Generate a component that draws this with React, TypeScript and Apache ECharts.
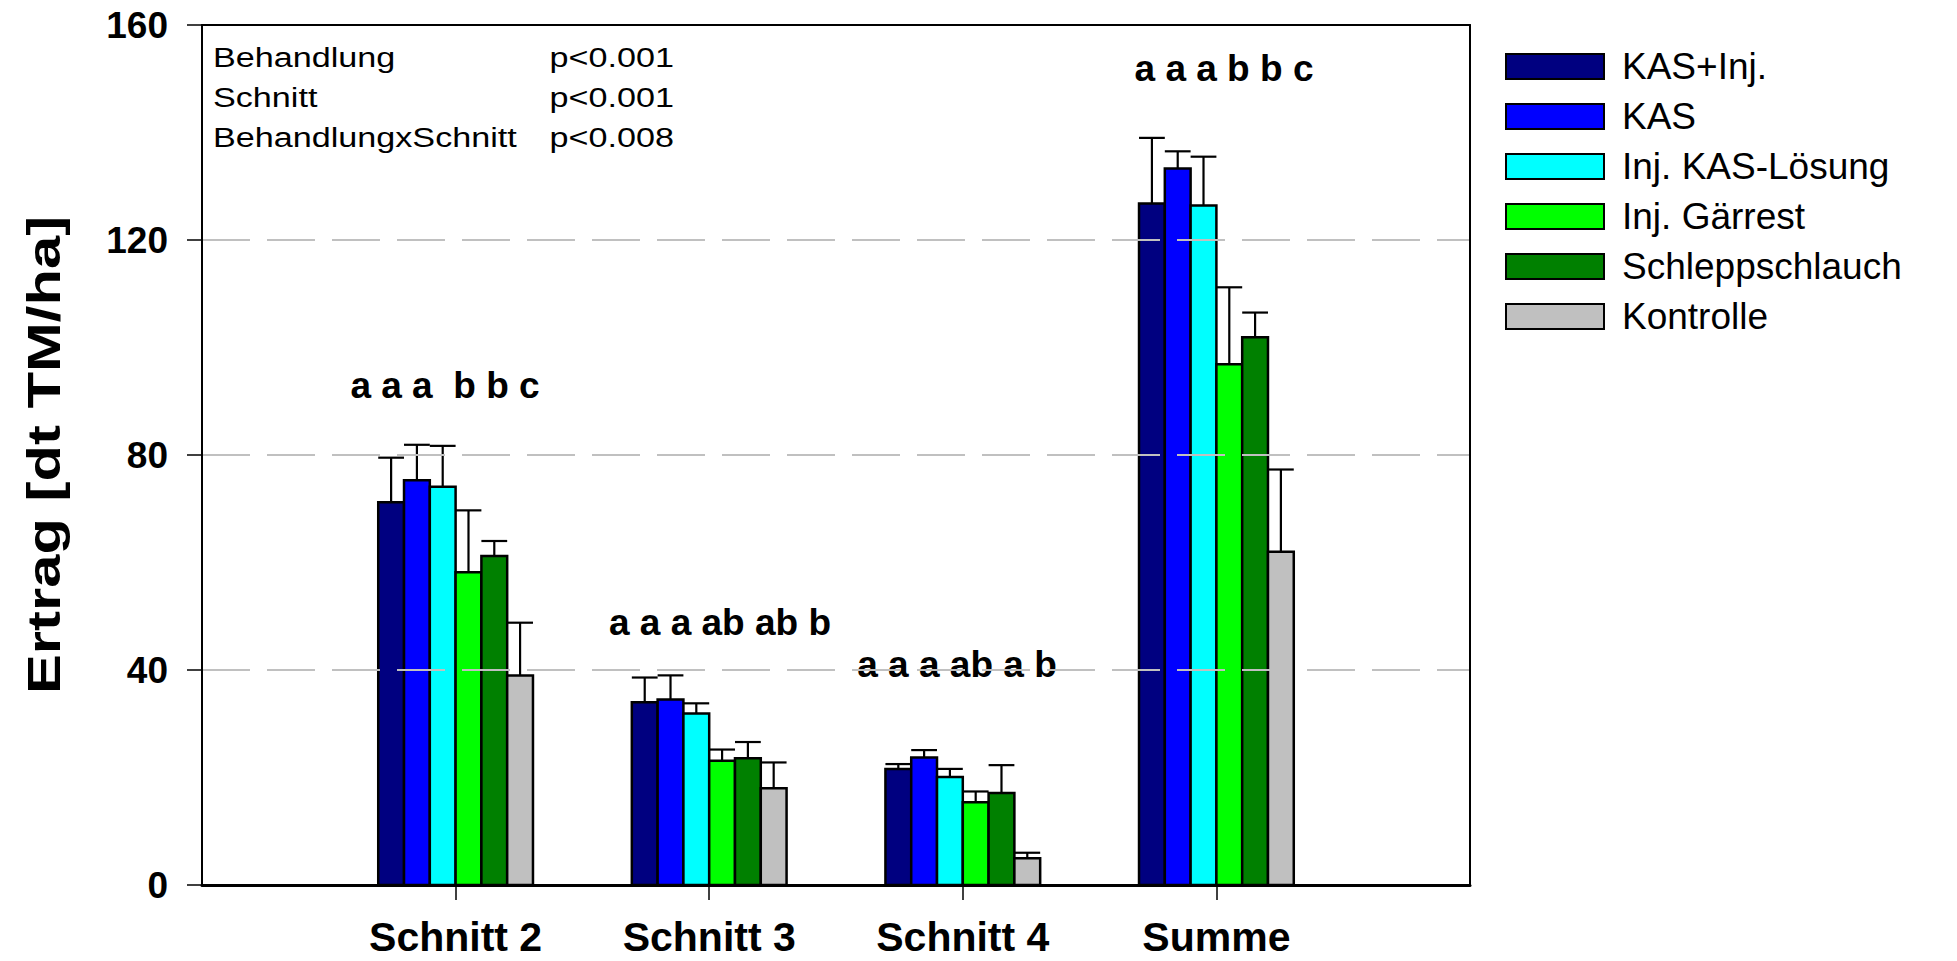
import React, { useEffect, useRef } from 'react';
import * as echarts from 'echarts';

// ---------- data ----------
const CATEGORIES = ['Schnitt 2', 'Schnitt 3', 'Schnitt 4', 'Summe'];
const TREATMENTS = ['KAS+Inj.', 'KAS', 'Inj. KAS-Lösung', 'Inj. Gärrest', 'Schleppschlauch', 'Kontrolle'];

const KAS_INJ = [71.2, 34.0, 21.6, 126.8];
const KAS = [75.3, 34.5, 23.7, 133.3];
const INJ_KAS_LOESUNG = [74.1, 31.9, 20.1, 126.4];
const INJ_GAERREST = [58.2, 23.1, 15.4, 96.9];
const SCHLEPPSCHLAUCH = [61.2, 23.6, 17.1, 101.9];
const KONTROLLE = [39.0, 18.0, 5.0, 62.0];

const KAS_INJ_ERR = [8.3, 4.6, 0.9, 12.2];
const KAS_ERR = [6.6, 4.5, 1.4, 3.2];
const INJ_KAS_LOESUNG_ERR = [7.6, 1.9, 1.5, 9.1];
const INJ_GAERREST_ERR = [11.5, 2.1, 2.0, 14.3];
const SCHLEPPSCHLAUCH_ERR = [2.8, 3.0, 5.2, 4.6];
const KONTROLLE_ERR = [9.8, 4.8, 1.0, 15.3];

const MEANS = [KAS_INJ, KAS, INJ_KAS_LOESUNG, INJ_GAERREST, SCHLEPPSCHLAUCH, KONTROLLE];
const ERRS = [KAS_INJ_ERR, KAS_ERR, INJ_KAS_LOESUNG_ERR, INJ_GAERREST_ERR, SCHLEPPSCHLAUCH_ERR, KONTROLLE_ERR];

const LETTERS = ['a a a  b b c', 'a a a ab ab b', 'a a a ab a b', 'a a a b b c'];
const LETTER_Y = [93, 48.8, 41, 152];

const Y_TICKS = [0, 40, 80, 120, 160];
const STATS_LABELS = ['Behandlung', 'Schnitt', 'BehandlungxSchnitt'];
const STATS_P = ['p<0.001', 'p<0.001', 'p<0.008'];
const Y_TITLE = 'Ertrag [dt TM/ha]';

// ---------- styles / layout ----------
const COLORS = ['#000080', '#0000ff', '#00ffff', '#00ff00', '#008000', '#c0c0c0'];
const FONT = '"Liberation Sans", Arial, Helvetica, sans-serif';
const BAR_FRACTION = 0.1017;
const LETTER_DX = [-10.6, 10.8, -5.8, 7.6];
const AXIS_DATA = ['', ...CATEGORIES, ''];

export default function App() {
  const ref = useRef<HTMLDivElement>(null);

  useEffect(() => {
    if (!ref.current) return;
    const chart = echarts.init(ref.current, undefined, { renderer: 'svg' });
    const N = TREATMENTS.length;

    const barSeries = TREATMENTS.map((name, s) => ({
      type: 'custom',
      name,
      z: 2,
      itemStyle: { color: COLORS[s] },
      data: CATEGORIES.map((_, i) => [i + 1, MEANS[s][i], ERRS[s][i]]),
      encode: { x: 0, y: 1 },
      renderItem: (params: any, api: any) => {
        const c = api.value(0);
        const v = api.value(1);
        const e = api.value(2);
        const p0 = api.coord([c, 0]);
        const p1 = api.coord([c, v]);
        const pe = api.coord([c, v + e]);
        const step = api.coord([2, 0])[0] - api.coord([1, 0])[0];
        const bw = step * BAR_FRACTION;
        const cx = p0[0] + (s - (N - 1) / 2) * bw;
        return {
          type: 'group',
          children: [
            {
              type: 'rect',
              shape: { x: cx - bw / 2, y: p1[1], width: bw, height: p0[1] - p1[1] },
              style: { fill: COLORS[s], stroke: '#000', lineWidth: 2.5 },
            },
            {
              type: 'line',
              shape: { x1: cx, y1: p1[1], x2: cx, y2: pe[1] },
              style: { stroke: '#000', lineWidth: 2.2 },
            },
            {
              type: 'line',
              shape: { x1: cx - bw / 2, y1: pe[1], x2: cx + bw / 2, y2: pe[1] },
              style: { stroke: '#000', lineWidth: 2.2 },
            },
          ],
        };
      },
    }));

    const letterSeries = {
      type: 'custom',
      name: 'letters',
      z: 3,
      silent: true,
      data: CATEGORIES.map((_, i) => [i + 1, LETTER_Y[i]]),
      encode: { x: 0, y: 1 },
      renderItem: (params: any, api: any) => {
        const p = api.coord([api.value(0), api.value(1)]);
        return {
          type: 'text',
          x: p[0] + LETTER_DX[params.dataIndex],
          y: p[1],
          style: {
            text: LETTERS[params.dataIndex],
            fontSize: 37,
            fontWeight: 'bold',
            fontFamily: FONT,
            fill: '#000',
            align: 'center',
            verticalAlign: 'middle',
          },
        };
      },
    };

    const option: any = {
      animation: false,
      backgroundColor: '#fff',
      grid: { left: 202, top: 25, width: 1268, height: 860, containLabel: false },
      legend: {
        orient: 'vertical',
        left: 1500,
        top: 43,
        itemWidth: 98,
        itemHeight: 25,
        itemGap: 13,
        icon: 'rect',
        selectedMode: false,
        data: TREATMENTS.map((n, i) => ({
          name: n,
          itemStyle: { color: COLORS[i], borderColor: '#000', borderWidth: 2 },
        })),
        textStyle: { fontSize: 37, color: '#000', fontFamily: FONT, padding: [0, 0, 0, 13] },
      },
      xAxis: [
        {
          type: 'category',
          data: AXIS_DATA,
          boundaryGap: false,
          z: 5,
          axisLine: { show: true, onZero: false, lineStyle: { color: '#000', width: 3 } },
          axisTick: {
            show: true,
            length: 15,
            interval: (idx: number) => idx >= 1 && idx <= CATEGORIES.length,
            lineStyle: { color: '#000', width: 1.5 },
          },
          axisLabel: {
            interval: 0,
            fontSize: 41,
            fontWeight: 'bold',
            fontFamily: FONT,
            color: '#000',
            margin: 31,
          },
          splitLine: { show: false },
        },
        {
          type: 'category',
          data: AXIS_DATA,
          boundaryGap: false,
          position: 'top',
          z: 5,
          axisLine: { show: true, onZero: false, lineStyle: { color: '#000', width: 2 } },
          axisTick: { show: false },
          axisLabel: { show: false },
          splitLine: { show: false },
        },
      ],
      yAxis: [
        {
          type: 'value',
          min: 0,
          max: 160,
          interval: 40,
          z: 5,
          axisLine: { show: true, lineStyle: { color: '#000', width: 2 } },
          axisTick: { show: true, length: 15, lineStyle: { color: '#000', width: 1.5 } },
          axisLabel: {
            fontSize: 37,
            fontWeight: 'bold',
            fontFamily: FONT,
            color: '#000',
            margin: 34,
            formatter: (v: number) => (Y_TICKS.includes(v) ? String(v) : ''),
          },
          splitLine: { show: true, lineStyle: { color: '#c0c0c0', width: 2, type: [48, 17] } },
        },
        {
          type: 'value',
          min: 0,
          max: 160,
          interval: 40,
          position: 'right',
          z: 5,
          axisLine: { show: true, lineStyle: { color: '#000', width: 2 } },
          axisTick: { show: false },
          axisLabel: { show: false },
          splitLine: { show: false },
        },
      ],
      graphic: [
        ...STATS_LABELS.map((t, i) => ({
          type: 'text',
          x: 213,
          y: 58 + i * 40,
          scaleX: 1.22,
          style: { text: t, fontSize: 28, fontFamily: FONT, fill: '#000', align: 'left', verticalAlign: 'middle' },
        })),
        ...STATS_P.map((t, i) => ({
          type: 'text',
          x: 674,
          y: 58 + i * 40,
          scaleX: 1.22,
          style: { text: t, fontSize: 28, fontFamily: FONT, fill: '#000', align: 'right', verticalAlign: 'middle' },
        })),
        {
          type: 'text',
          x: 44,
          y: 455,
          rotation: Math.PI / 2,
          scaleX: 1.3,
          style: {
            text: Y_TITLE,
            fontSize: 46,
            fontWeight: 'bold',
            fontFamily: FONT,
            fill: '#000',
            align: 'center',
            verticalAlign: 'middle',
          },
        },
      ],
      series: [...barSeries, letterSeries],
    };

    chart.setOption(option);
    return () => chart.dispose();
  }, []);

  return (
    <div
      ref={ref}
      style={{ position: 'fixed', left: 0, top: 0, width: '1957px', height: '961px', background: '#fff' }}
    />
  );
}
